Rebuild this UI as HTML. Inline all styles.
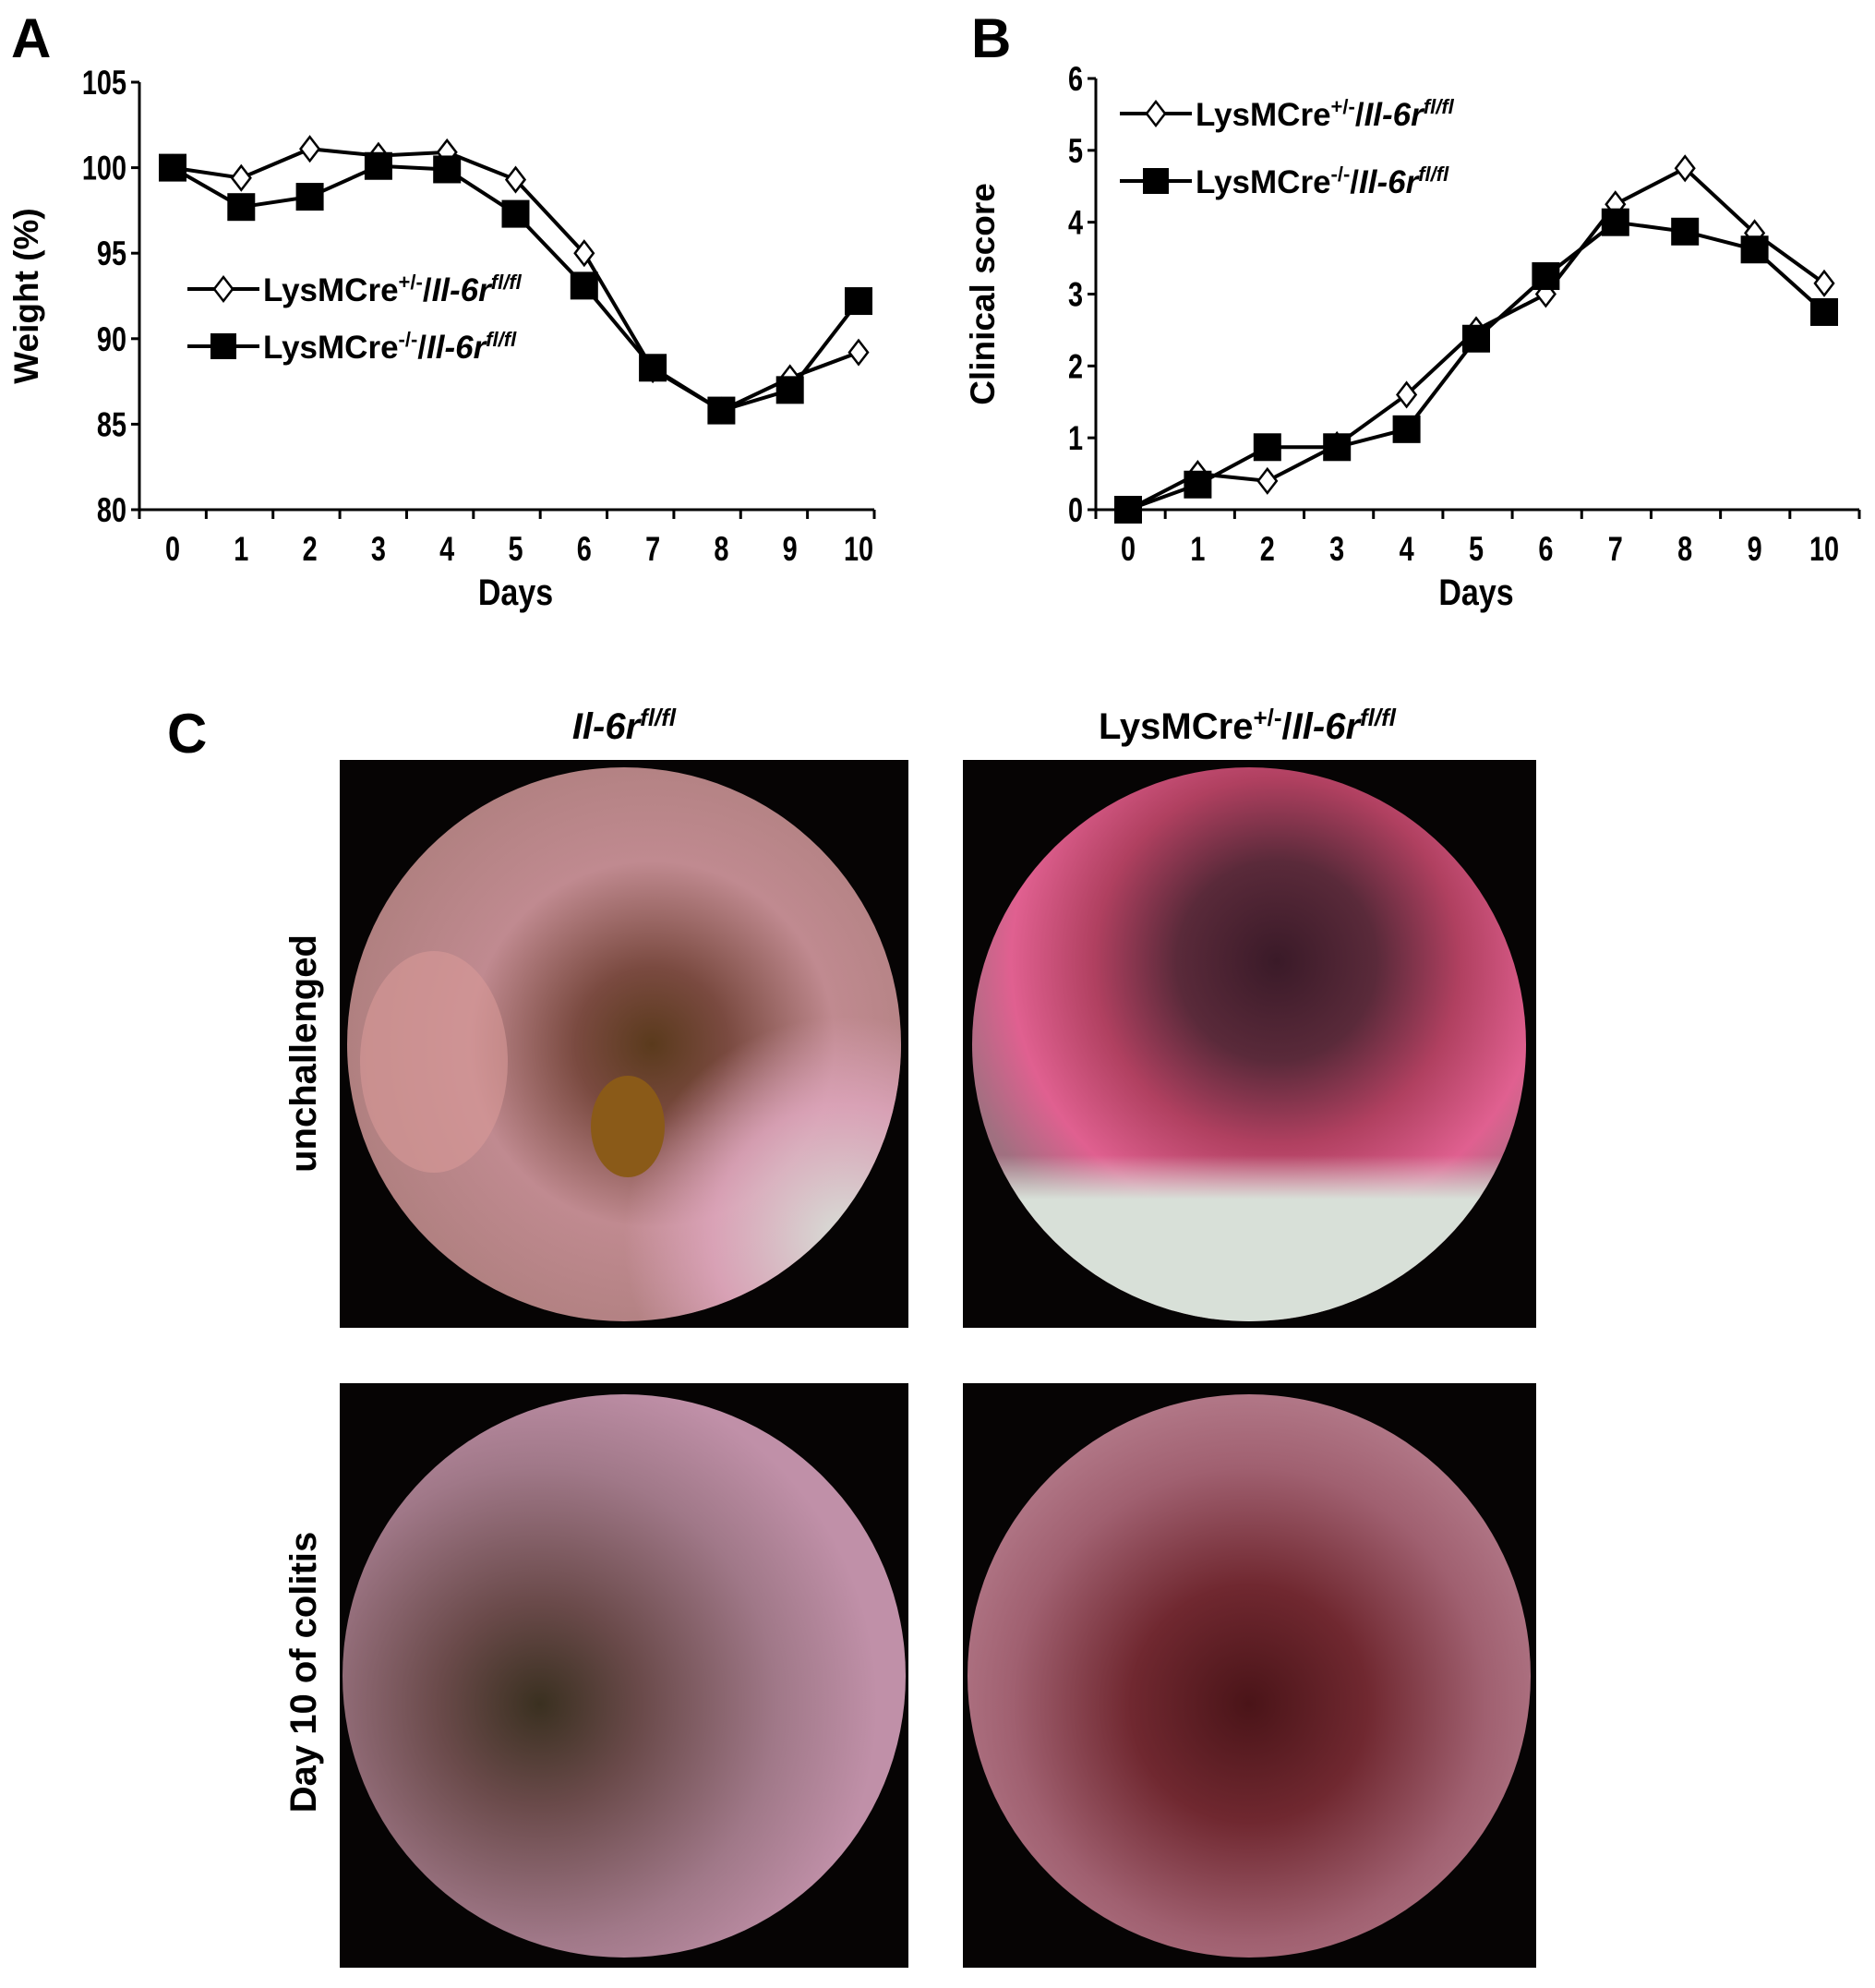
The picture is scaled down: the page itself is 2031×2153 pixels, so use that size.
<!DOCTYPE html>
<html><head><meta charset="utf-8"><style>
html,body{margin:0;padding:0;background:#fff}
svg{display:block}
text{font-family:"Liberation Sans Narrow","Liberation Sans",sans-serif;font-weight:bold;fill:#000}
.w{font-family:"Liberation Sans",sans-serif}
</style></head><body>
<svg id="fig" width="2031" height="2153" viewBox="0 0 2031 2153" xmlns="http://www.w3.org/2000/svg">
<defs>
<radialGradient id="g1" cx="0.55" cy="0.5" r="0.55"><stop offset="0" stop-color="#5a3a1c"/><stop offset="0.25" stop-color="#7a4a40"/><stop offset="0.6" stop-color="#c08a90"/><stop offset="1" stop-color="#b08080"/></radialGradient>
<radialGradient id="g1b" cx="0.9" cy="0.85" r="0.4"><stop offset="0" stop-color="#d8e0d8"/><stop offset="0.6" stop-color="#e0a8c0" stop-opacity="0.8"/><stop offset="1" stop-color="#e0a8c0" stop-opacity="0"/></radialGradient>
<radialGradient id="g2" cx="0.55" cy="0.35" r="0.6"><stop offset="0" stop-color="#3a1a28"/><stop offset="0.3" stop-color="#5a2a3a"/><stop offset="0.55" stop-color="#b04060"/><stop offset="0.8" stop-color="#e06090"/><stop offset="1" stop-color="#a07080"/></radialGradient>
<linearGradient id="g2b" x1="0" y1="0" x2="0" y2="1"><stop offset="0.7" stop-color="#d8e0d8" stop-opacity="0"/><stop offset="0.78" stop-color="#d8e0d8"/><stop offset="1" stop-color="#d8e0d8"/></linearGradient>
<radialGradient id="g3" cx="0.35" cy="0.55" r="0.6"><stop offset="0" stop-color="#3a3020"/><stop offset="0.3" stop-color="#6a4a4a"/><stop offset="0.7" stop-color="#a07888"/><stop offset="1" stop-color="#c090a8"/></radialGradient>
<radialGradient id="g4" cx="0.5" cy="0.55" r="0.6"><stop offset="0" stop-color="#4a1418"/><stop offset="0.35" stop-color="#702830"/><stop offset="0.7" stop-color="#a06070"/><stop offset="1" stop-color="#b88090"/></radialGradient>
</defs>
<g id="chartA"></g>
<g id="chartB"></g>
<text x="12" y="62" font-size="60" class="w">A</text>
<text x="1052" y="62" font-size="60" class="w">B</text>
<text x="181" y="815" font-size="60" class="w">C</text>
<text x="676" y="800" font-size="40" text-anchor="middle"><tspan font-style="italic">Il-6r</tspan><tspan font-style="italic" font-size="26" dy="-14">fl/fl</tspan></text>
<text x="1351" y="800" font-size="40" text-anchor="middle">LysMCre<tspan font-size="26" dy="-14">+/-</tspan><tspan dy="14">/</tspan><tspan font-style="italic">Il-6r</tspan><tspan font-style="italic" font-size="26" dy="-14">fl/fl</tspan></text>
<text transform="translate(342,1141) rotate(-90)" font-size="40" text-anchor="middle" class="w">unchallenged</text>
<text transform="translate(342,1811) rotate(-90)" font-size="40" text-anchor="middle" class="w">Day 10 of colitis</text>
<g>
<rect x="368" y="823" width="616" height="615" fill="#060404"/>
<circle cx="676" cy="1131" r="300" fill="url(#g1)"/>
<circle cx="676" cy="1131" r="300" fill="url(#g1b)"/>
<ellipse cx="470" cy="1150" rx="80" ry="120" fill="#d89a98" opacity="0.6"/>
<ellipse cx="680" cy="1220" rx="40" ry="55" fill="#8a5a18"/>
</g>
<g>
<rect x="1043" y="823" width="621" height="615" fill="#060404"/>
<circle cx="1353" cy="1131" r="300" fill="url(#g2)"/>
<circle cx="1353" cy="1131" r="300" fill="url(#g2b)"/>
</g>
<g>
<rect x="368" y="1498" width="616" height="633" fill="#060404"/>
<circle cx="676" cy="1815" r="305" fill="url(#g3)"/>
</g>
<g>
<rect x="1043" y="1498" width="621" height="633" fill="#060404"/>
<circle cx="1353" cy="1815" r="305" fill="url(#g4)"/>
</g>
</svg>
<script>
const days = [0,1,2,3,4,5,6,7,8,9,10];
const weightHet = [100,99.4,101.1,100.7,100.9,99.3,95,88.2,85.8,87.7,89.2];
const weightKo = [100,97.7,98.3,100.1,99.9,97.3,93.1,88.3,85.8,87,92.2];
const weightTicks = [80,85,90,95,100,105];
const scoreHet = [0,0.5,0.4,0.9,1.6,2.5,3,4.25,4.75,3.85,3.15];
const scoreKo = [0,0.35,0.87,0.87,1.12,2.38,3.25,4,3.87,3.62,2.75];
const scoreTicks = [0,1,2,3,4,5,6];

const NS='http://www.w3.org/2000/svg';
function mk(parent,tag,attrs){const e=document.createElementNS(NS,tag);for(const k in attrs)e.setAttribute(k,attrs[k]);parent.appendChild(e);return e;}

function chart(gid,cfg){
  const g=document.getElementById(gid);
  const {x0,x1,p0,p1,yTop,yBot,vmin,vmax,ticks,het,ko,ytitle,legX,legY1,legY2}=cfg;
  const n=days.length;
  const step=(x1-x0)/n;
  const xs=d=>p0+(p1-p0)*(d-days[0])/(days[n-1]-days[0]);
  const ys=v=>yBot-(v-vmin)/(vmax-vmin)*(yBot-yTop);
  const ya=mk(g,'line',{x1:x0,y1:yTop,x2:x0,y2:yBot,stroke:'#000','stroke-width':3});
  
  
  const xa=mk(g,'line',{x1:x0,y1:yBot,x2:x1,y2:yBot,stroke:'#000','stroke-width':3});
  
  
  ticks.forEach(t=>{
    mk(g,'line',{x1:x0-9,y1:ys(t),x2:x0,y2:ys(t),stroke:'#000','stroke-width':3});
    const tx=mk(g,'text',{transform:`translate(${x0-14},${ys(t)+13}) scale(0.78,1)`,'font-size':37,'text-anchor':'end'});
    tx.textContent=t;
    
    
  });
  for(let i=0;i<=n;i++){mk(g,'line',{x1:x0+step*i,y1:yBot,x2:x0+step*i,y2:yBot+10,stroke:'#000','stroke-width':3});}
  days.forEach(d=>{
    const tx=mk(g,'text',{transform:`translate(${xs(d)},${yBot+55}) scale(0.78,1)`,'font-size':37,'text-anchor':'middle'});
    tx.textContent=d;
    
    
  });
  const xt=mk(g,'text',{transform:`translate(${(p0+p1)/2},${yBot+103}) scale(0.85,1)`,'font-size':40,'text-anchor':'middle'});
  xt.textContent='Days';
  
  
  const yt=mk(g,'text',{transform:`translate(${x0-110},${(yTop+yBot)/2}) rotate(-90)`,'font-size':37,'text-anchor':'middle','class':'w'});
  yt.textContent=ytitle;
  
  
  function series(vals,filled,name){
    const pl=mk(g,'polyline',{points:vals.map((v,i)=>xs(days[i])+','+ys(v)).join(' '),fill:'none',stroke:'#000','stroke-width':4});
    
    
    vals.forEach((v,i)=>{
      const cx=xs(days[i]),cy=ys(v);let m;
      if(filled)m=mk(g,'rect',{x:cx-15,y:cy-15,width:30,height:30,fill:'#000'});
      else m=mk(g,'polygon',{points:`${cx},${cy-13} ${cx+10},${cy} ${cx},${cy+13} ${cx-10},${cy}`,fill:'#fff',stroke:'#000','stroke-width':2.5});
      
      
    });
  }
  series(het,false,'het-series');
  series(ko,true,'ko-series');
  function legend(y,filled,sup,name){
    const lg=mk(g,'g',{});
    
    
    mk(lg,'line',{x1:legX,y1:y,x2:legX+78,y2:y,stroke:'#000','stroke-width':4});
    const cx=legX+39;
    if(filled)mk(lg,'rect',{x:cx-14,y:y-14,width:28,height:28,fill:'#000'});
    else mk(lg,'polygon',{points:`${cx},${y-13} ${cx+10},${y} ${cx},${y+13} ${cx-10},${y}`,fill:'#fff',stroke:'#000','stroke-width':2.5});
    const t=mk(lg,'text',{x:legX+82,y:y+13,'font-size':35});
    t.innerHTML=`LysMCre<tspan font-size="22" dy="-13">${sup}</tspan><tspan dy="13">/</tspan><tspan font-style="italic">Il-6r</tspan><tspan font-style="italic" font-size="22" dy="-13">fl/fl</tspan>`;
  }
  legend(legY1,false,'+/-','legend-het');
  legend(legY2,true,'-/-','legend-ko');
}
chart('chartA',{x0:151,x1:947,p0:187,p1:930,yTop:89,yBot:552,vmin:80,vmax:105,ticks:weightTicks,het:weightHet,ko:weightKo,ytitle:'Weight (%)',legX:203,legY1:313,legY2:375});
chart('chartB',{x0:1187,x1:2014,p0:1222,p1:1976,yTop:85,yBot:552,vmin:0,vmax:6,ticks:scoreTicks,het:scoreHet,ko:scoreKo,ytitle:'Clinical score',legX:1213,legY1:123,legY2:196});
</script>
</body></html>
